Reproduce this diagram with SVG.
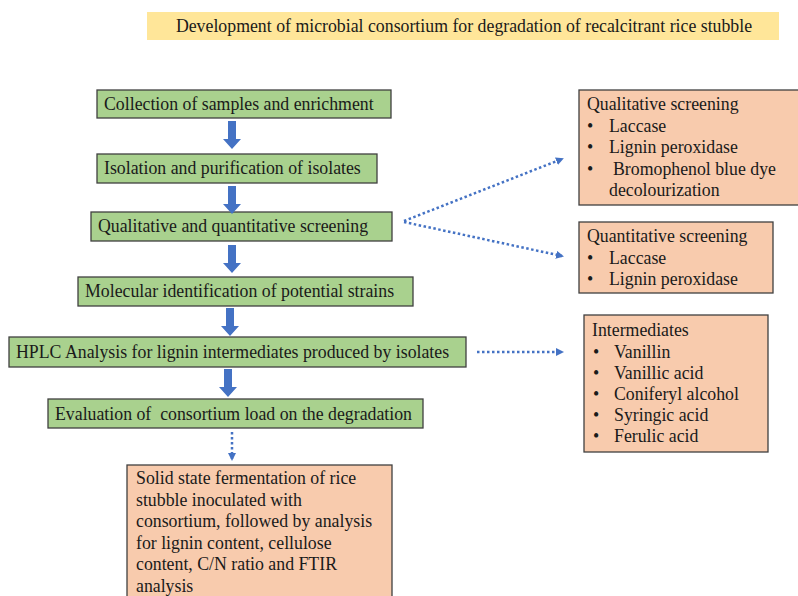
<svg xmlns="http://www.w3.org/2000/svg" width="798" height="596" viewBox="0 0 798 596">
<defs>
<style>
.t{font-family:"Liberation Serif","Times New Roman",serif;font-size:17.8px;fill:#1a1a1a}
.g{fill:#a9d18e;stroke:#404040;stroke-width:1.3}
.o{fill:#f8cbad;stroke:#404040;stroke-width:1.3}
.ba{fill:#4472c4}
.dot{stroke:#4472c4;stroke-width:2.5;fill:none;stroke-dasharray:2.5 2.5}
</style>
<marker id="ah" markerWidth="10" markerHeight="10" refX="6" refY="4" orient="auto" markerUnits="userSpaceOnUse">
<path d="M0,0 L8,4 L0,8 z" fill="#4472c4"/>
</marker>
<path id="blk" d="M-4,0 h8 v18 h5 l-9,10 l-9,-10 h5 z"/>
</defs>
<g id="title">
<rect x="147" y="12" width="632" height="28" fill="#ffe699"/>
<text class="t" x="464" y="32" text-anchor="middle">Development of microbial consortium for degradation of recalcitrant rice stubble</text>
</g>
<g id="n1"><rect class="g" x="97" y="90" width="294" height="28"/><text class="t" x="104" y="110">Collection of samples and enrichment</text></g>
<g id="n2"><rect class="g" x="97" y="154" width="280" height="29"/><text class="t" x="104" y="174">Isolation and purification of isolates</text></g>
<g id="n3"><rect class="g" x="91" y="212" width="301" height="29"/><text class="t" x="98" y="232">Qualitative and quantitative screening</text></g>
<g id="n4"><rect class="g" x="78" y="277" width="335" height="29"/><text class="t" x="85" y="297">Molecular identification of potential strains</text></g>
<g id="n5"><rect class="g" x="9" y="337" width="457" height="30"/><text class="t" x="16" y="358">HPLC Analysis for lignin intermediates produced by isolates</text></g>
<g id="n6"><rect class="g" x="48" y="399" width="375" height="29"/><text class="t" x="55" y="420" xml:space="preserve">Evaluation of  consortium load on the degradation</text></g>
<g id="n7"><rect class="o" x="127" y="465" width="265" height="140"/>
<text class="t" x="136" y="484">Solid state fermentation of rice</text>
<text class="t" x="136" y="506">stubble inoculated with</text>
<text class="t" x="136" y="527">consortium, followed by analysis</text>
<text class="t" x="136" y="549">for lignin content, cellulose</text>
<text class="t" x="136" y="570">content, C/N ratio and FTIR</text>
<text class="t" x="136" y="592">analysis</text>
</g>
<g id="qual"><rect class="o" x="579" y="90" width="222" height="115"/>
<text class="t" x="587" y="110">Qualitative screening</text>
<text class="t" x="587" y="132">•</text><text class="t" x="609" y="132">Laccase</text>
<text class="t" x="587" y="153">•</text><text class="t" x="609" y="153">Lignin peroxidase</text>
<text class="t" x="587" y="175">•</text><text class="t" x="613" y="175">Bromophenol blue dye</text>
<text class="t" x="609" y="196">decolourization</text>
</g>
<g id="quant"><rect class="o" x="579" y="222" width="194" height="71"/>
<text class="t" x="587" y="242">Quantitative screening</text>
<text class="t" x="587" y="264">•</text><text class="t" x="609" y="264">Laccase</text>
<text class="t" x="587" y="285">•</text><text class="t" x="609" y="285">Lignin peroxidase</text>
</g>
<g id="inter"><rect class="o" x="584" y="315" width="184" height="137"/>
<text class="t" x="592" y="336">Intermediates</text>
<text class="t" x="593" y="358">•</text><text class="t" x="614" y="358">Vanillin</text>
<text class="t" x="593" y="379">•</text><text class="t" x="614" y="379">Vanillic acid</text>
<text class="t" x="593" y="400">•</text><text class="t" x="614" y="400">Coniferyl alcohol</text>
<text class="t" x="593" y="421">•</text><text class="t" x="614" y="421">Syringic acid</text>
<text class="t" x="593" y="442">•</text><text class="t" x="614" y="442">Ferulic acid</text>
</g>
<g id="connectors">
<use href="#blk" class="ba" x="232" y="121"/>
<use href="#blk" class="ba" x="232" y="186"/>
<use href="#blk" class="ba" x="232" y="245"/>
<use href="#blk" class="ba" x="230" y="308"/>
<use href="#blk" class="ba" x="228" y="369"/>
<line class="dot" x1="404" y1="221" x2="562" y2="159" marker-end="url(#ah)"/>
<line class="dot" x1="404" y1="222" x2="562" y2="256" marker-end="url(#ah)"/>
<line class="dot" x1="477" y1="352" x2="562" y2="352" marker-end="url(#ah)"/>
<line class="dot" x1="232" y1="432" x2="232" y2="459" marker-end="url(#ah)"/>
</g>
</svg>
